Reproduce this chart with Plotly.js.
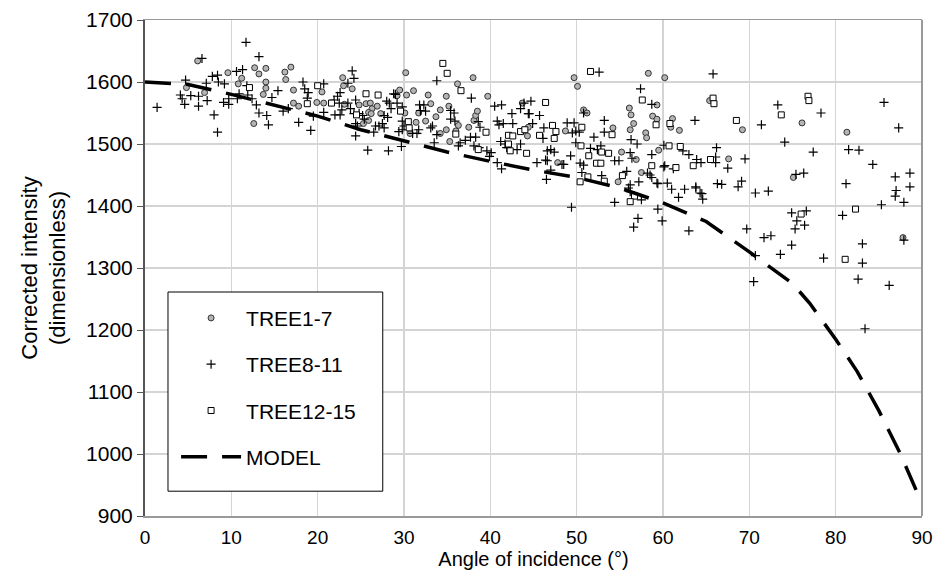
<!DOCTYPE html>
<html>
<head>
<meta charset="utf-8">
<script src="https://cdn.plot.ly/plotly-3.0.1.min.js"></script>
<style>html,body{margin:0;padding:0;background:#fff}#chart{width:937px;height:573px}</style>
</head>
<body>
<div id="chart"></div>
<script>
// TREE1-7 (circles)
const tree1X = [6.1,4.8,6.9,9.6,10.8,11.2,12.7,13.2,14.0,14.0,14.0,13.7,12.6,16.2,16.9,16.3,17.2,17.2,17.8,19.9,20.5,20.7,
  22.9,23.0,24.0,23.1,24.8,25.6,26.1,26.3,25.9,26.2,26.9,25.9,25.3,27.3,30.2,29.5,29.2,30.3,31.1,30.1,31.7,31.4,30.7,32.5,32.8,33.1,33.7,34.2,34.9,35.2,34.2,34.9,35.3,36.2,36.3,36.0,38.0,37.5,38.1,38.3,38.5,39.7,43.7,
  47.8,56.9,54.8,57.5,
  49.7,50.1,58.3,60.2,50.8,51.2,44.3,43.7,48.7,54.2,56.1,56.3,56.6,56.2,58.0,58.1,58.8,59.3,59.3,61.1,60.9,61.9,55.2,59.5,65.4,44.4,
  69.2,76.1,81.3,67.6,75.1,87.8];
const tree1Y = [1634,1591,1583,1615,1597,1606,1623,1613,1622,1600,1590,1580,1533,1616,1624,1604,1587,1566,1561,1567,1584,1566,
  1607,1594,1589,1564,1563,1565,1566,1557,1551,1549,1561,1538,1533,1549,1615,1587,1578,1579,1586,1550,1550,1535,1517,1537,1579,1565,1544,1555,1577,1561,1517,1523,1504,1597,1530,1521,1607,1527,1538,1546,1553,1577,1566,
  1470,1475,1439,1454,
  1607,1593,1614,1607,1555,1550,1513,1521,1521,1526,1558,1547,1533,1523,1518,1510,1545,1540,1563,1541,1527,1522,1487,1490,1570,1527,
  1523,1534,1519,1476,1446,1349];

// TREE8-11 (plus signs)
const tree8X = [1.4,11.7,6.6,13.2,4.7,4.1,4.3,5.3,6.2,4.6,6.2,7.2,7.1,7.8,8.4,8.5,9.2,8.0,8.4,9.1,9.7,9.7,10.6,11.3,10.7,10.9,11.8,11.9,12.4,12.9,13.2,14.1,14.3,14.7,15.4,16.0,16.6,18.3,18.5,18.9,18.8,17.8,19.2,19.5,20.7,20.7,
  24.0,24.2,23.5,22.3,21.9,22.6,22.5,22.8,22.0,22.6,23.5,23.8,24.4,24.2,24.8,24.4,24.6,25.4,25.2,24.4,25.8,26.7,27.1,27.5,27.7,28.1,28.3,28.0,28.5,26.5,27.7,28.2,28.8,29.0,29.2,29.8,29.8,30.0,29.8,29.4,29.7,31.0,31.5,31.7,31.8,32.3,31.9,32.5,33.1,33.3,33.8,33.5,33.8,35.4,35.9,35.8,35.4,36.3,36.5,37.1,37.8,37.7,38.3,38.1,38.7,38.6,38.8,39.6,39.9,40.1,40.5,41.3,42.5,42.6,41.5,41.0,40.8,40.8,41.3,41.2,41.7,41.9,43.1,43.5,43.5,43.9,44.4,
  49.4,54.4,46.5,57.1,56.6,59.9,59.4,63.0,56.0,56.2,57.2,57.5,58.7,59.3,60.5,61.0,61.8,62.5,63.8,64.3,47.0,50.6,52.9,55.8,60.1,61.2,45.4,48.3,
  52.6,65.8,57.4,58.7,44.7,44.5,45.7,44.9,46.2,46.1,50.8,48.9,49.7,49.9,49.5,50.3,53.2,53.2,52.0,49.9,63.7,56.3,57.0,47.0,46.6,47.4,46.4,46.6,49.3,50.4,50.8,48.5,51.6,52.4,52.8,54.4,54.9,56.2,56.4,58.7,60.2,60.1,62.3,63.0,63.9,64.4,66.2,58.2,58.5,59.4,63.8,66.3,56.2,
  73.3,71.4,78.3,74.1,77.4,85.6,87.3,81.5,82.7,84.3,86.9,88.6,81.2,88.6,75.4,76.3,66.1,66.1,69.5,67.5,66.8,69.1,68.7,
  70.7,72.2,64.5,64.6,87.9,85.3,86.9,74.9,76.6,75.5,76.4,75.3,69.7,71.7,72.5,74.9,73.6,70.7,70.5,78.6,80.8,83.1,83.1,82.6,86.2,83.4,87.9,87.0];
const tree8Y = [1559,1664,1638,1641,1603,1579,1573,1578,1577,1564,1561,1570,1598,1609,1611,1600,1597,1547,1519,1567,1564,1573,1617,1620,1573,1581,1594,1579,1573,1563,1550,1546,1531,1575,1586,1553,1557,1600,1589,1583,1574,1535,1522,1545,1551,1597,
  1618,1606,1598,1577,1571,1583,1566,1555,1547,1547,1566,1557,1571,1549,1549,1533,1529,1540,1546,1513,1490,1529,1529,1533,1546,1543,1566,1569,1557,1519,1526,1489,1581,1580,1566,1560,1537,1529,1523,1520,1496,1517,1517,1523,1563,1563,1554,1553,1526,1529,1602,1502,1515,1540,1537,1550,1554,1497,1502,1506,1574,1511,1511,1497,1494,1536,1527,1489,1480,1486,1561,1563,1549,1533,1533,1531,1537,1470,1460,1504,1500,1494,1491,1500,1557,1566,1549,
  1398,1406,1443,1380,1366,1376,1395,1360,1429,1423,1439,1410,1446,1437,1437,1427,1414,1427,1429,1421,1458,1454,1449,1456,1463,1460,1470,1467,
  1616,1613,1589,1564,1569,1549,1546,1533,1526,1509,1550,1534,1534,1521,1518,1519,1538,1519,1511,1502,1538,1507,1500,1491,1489,1487,1474,1473,1481,1469,1466,1467,1493,1491,1497,1473,1473,1486,1477,1483,1465,1498,1489,1483,1475,1470,1494,1453,1450,1436,1431,1436,1434,
  1563,1531,1550,1503,1487,1567,1526,1491,1490,1467,1447,1453,1436,1431,1451,1453,1479,1470,1476,1461,1435,1440,1431,
  1421,1424,1420,1411,1406,1402,1416,1389,1392,1376,1369,1363,1363,1349,1352,1337,1322,1320,1278,1316,1385,1339,1308,1282,1272,1202,1345,1425];

// TREE12-15 (squares)
const tree12X = [12.1,18.8,20.0,21.6,
  25.6,27.0,24.5,34.5,35.0,36.6,29.6,30.5,30.6,36.0,39.5,38.6,42.3,42.1,42.6,42.1,43.5,44.0,44.2,
  50.4,51.3,52.3,52.8,53.2,55.3,56.7,56.2,58.7,61.5,63.5,
  51.6,46.4,57.6,59.2,60.8,47.2,47.6,47.4,45.7,50.6,54.1,50.5,51.4,52.9,53.7,60.7,62.0,65.5,65.8,65.9,
  68.5,73.7,76.8,76.9,76.0,82.3,81.1];
const tree12Y = [1591,1565,1594,1566,
  1581,1579,1547,1630,1614,1586,1553,1536,1526,1516,1519,1491,1489,1514,1513,1500,1520,1523,1485,
  1439,1447,1469,1469,1440,1449,1416,1407,1465,1462,1465,
  1617,1567,1571,1531,1533,1530,1520,1509,1514,1527,1515,1497,1481,1487,1485,1497,1496,1475,1574,1565,
  1538,1547,1577,1570,1387,1395,1314];

// MODEL
const modelX = [0,5,10,15,20,25,30,35,40,45,50,55,60,65,70,75,77,80,82.5,85,87.5,90];
const modelY = [1600,1596,1580,1562,1545,1523,1505,1487,1472,1458,1446,1429,1405,1375,1326,1275,1243,1185,1133,1070,1000,920];

const xTicks = [0,10,20,30,40,50,60,70,80,90];
const yTicks = [900,1000,1100,1200,1300,1400,1500,1600,1700];

const FONT = 'Liberation Sans, Arial, sans-serif';

const traces = [
  {x: tree1X, y: tree1Y, name: 'TREE1-7', type: 'scatter', mode: 'markers', legendgroup: 'a',
   marker: {symbol: 'circle', size: 6, color: '#b4b4b4', line: {color: '#333', width: 1}}},
  {x: tree8X, y: tree8Y, name: 'TREE8-11', type: 'scatter', mode: 'markers', legendgroup: 'b',
   marker: {symbol: 'cross-thin', size: 6.5, color: '#000', line: {color: '#000', width: 1.2}}},
  {x: tree12X, y: tree12Y, name: 'TREE12-15', type: 'scatter', mode: 'markers', legendgroup: 'c',
   marker: {symbol: 'square', size: 6, color: '#fff', line: {color: '#000', width: 1}}},
  {x: modelX, y: modelY, name: 'MODEL', type: 'scatter', mode: 'lines', legendgroup: 'd',
   line: {color: '#000', width: 3.5, dash: '26px,15px'}}
];

const layout = {
  width: 937, height: 573,
  margin: {l: 145, r: 15, t: 20, b: 57},
  paper_bgcolor: '#fff', plot_bgcolor: '#fff',
  font: {family: FONT, size: 21, color: '#000'},
  showlegend: true,
  legend: {x: 0.04, y: 0.44, xanchor: 'left', yanchor: 'top', bgcolor: 'rgba(0,0,0,0)',
           borderwidth: 0, font: {family: FONT, size: 21},
           tracegroupgap: 16, itemwidth: 60},
  xaxis: {range: [0, 90], tickvals: xTicks, ticktext: xTicks.map(String), showgrid: true,
          gridcolor: '#d4d4d4', gridwidth: 1.5, zeroline: false, showline: true, linecolor: '#999',
          linewidth: 1.5, mirror: true, ticks: 'outside', ticklen: 4, tickcolor: 'rgba(0,0,0,0)',
          tickfont: {size: 19}, automargin: false,
          title: {text: 'Angle of incidence (°)', font: {size: 20}, standoff: 3}},
  yaxis: {range: [900, 1700], tickvals: yTicks, ticktext: yTicks.map(String), showgrid: true,
          gridcolor: '#d4d4d4', gridwidth: 1.5, zeroline: false, showline: true, linecolor: '#555',
          linewidth: 2, mirror: false, ticks: 'outside', ticklen: 6, tickcolor: '#555', tickfont: {size: 21},
          title: {text: 'Corrected intensity<br>(dimensionless)', font: {size: 22}, standoff: 14}},
  shapes: [
    {type: 'line', xref: 'paper', yref: 'paper', x0: 1, x1: 1, y0: 0, y1: 1,
     line: {color: '#999', width: 2}},
    {type: 'rect', xref: 'paper', yref: 'paper', layer: 'above',
     x0: 0.0296, x1: 0.306, y0: 0.05, y1: 0.4516,
     line: {color: '#000', width: 1}, fillcolor: '#fff'}
  ]
};

Plotly.newPlot('chart', traces, layout, {displayModeBar: false, staticPlot: true});
</script>
</body>
</html>
